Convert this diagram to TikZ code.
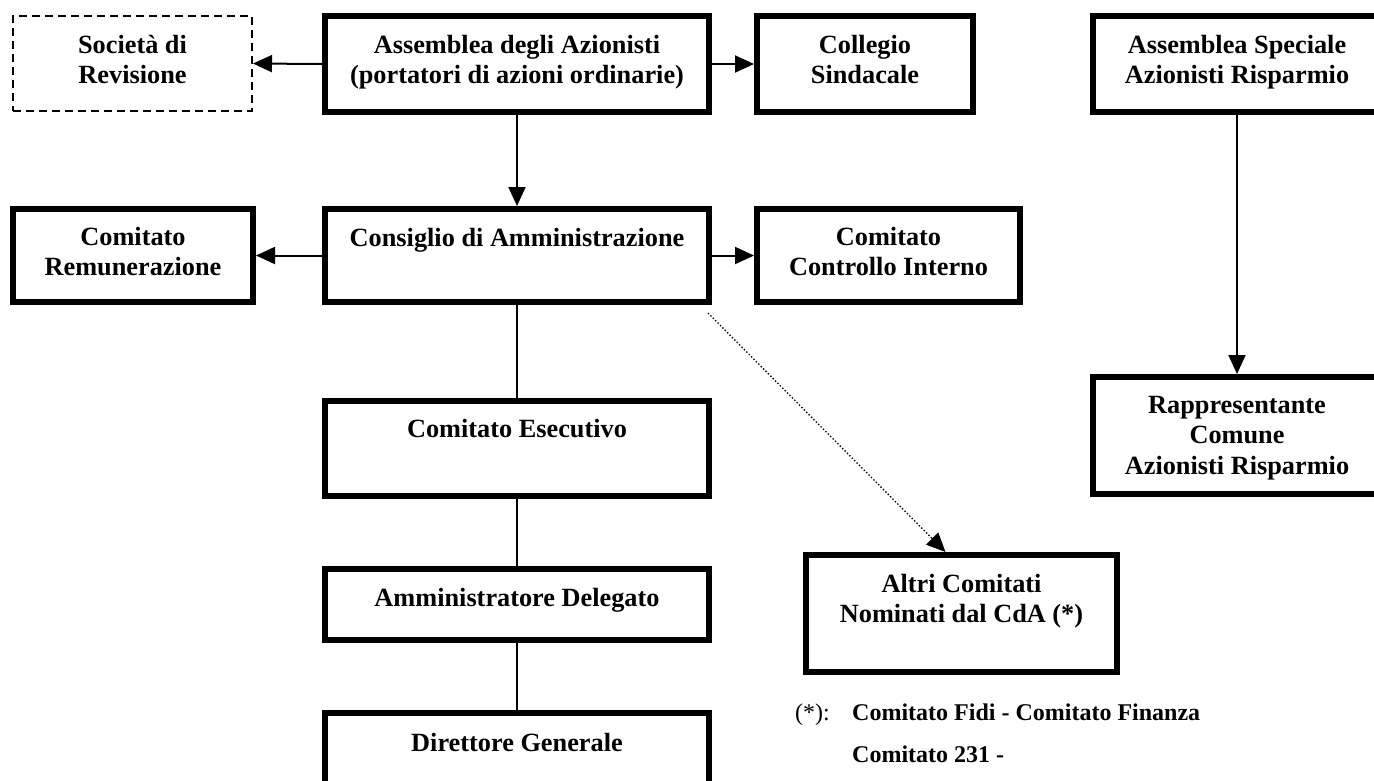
\documentclass[tikz,border=0pt]{standalone}
\usepackage{fontspec}
\setmainfont{Liberation Serif}
\usetikzlibrary{arrows.meta,calc}
\begin{document}
\begin{tikzpicture}[x=1pt,y=-1pt,
  orgbox/.style 2 args={draw=black, line width=6pt, minimum width=#1, minimum height=#2, inner sep=0pt},
  dashbox/.style 2 args={draw=black, line width=2pt, dash pattern=on 8pt off 5pt, minimum width=#1, minimum height=#2, inner sep=0pt},
  boxtxt/.style={font=\fontsize{26.3}{30.5}\selectfont\bfseries, align=center, inner sep=0pt, anchor=north},
  fntxt/.style={font=\fontsize{24}{28}\selectfont\bfseries, inner sep=0pt, anchor=base west},
  fnmark/.style={font=\fontsize{24}{28}\selectfont, inner sep=0pt, anchor=base west},
  conn/.style={draw=black, line width=2pt},
  arr/.style={conn, -{Triangle[length=19pt,width=17pt]}},
  dotarr/.style={draw=black, line width=1.3pt, dash pattern=on 1.4pt off 2pt, -{Triangle[length=19pt,width=17pt]}}
]
\fill[white] (0,0) rectangle (1374,780);
\useasboundingbox (0,0) rectangle (1374,780);

% boxes
\node[dashbox={239pt}{95pt}] (soc) at (132.5,63.5) {};
\node[orgbox={384pt}{96pt}] (ass) at (517,64) {};
\node[orgbox={216pt}{96pt}] (col) at (865,64) {};
\node[orgbox={288pt}{96pt}] (spe) at (1237,64) {};
\node[orgbox={240pt}{93pt}] (rem) at (133,255.5) {};
\node[orgbox={384pt}{93pt}] (cda) at (517,255.5) {};
\node[orgbox={263pt}{93pt}] (cci) at (888.5,255.5) {};
\node[orgbox={384pt}{95pt}] (ese) at (517,448.5) {};
\node[orgbox={384pt}{71pt}] (amm) at (517,604.5) {};
\node[orgbox={384pt}{84pt}] (dir) at (517,755) {};
\node[orgbox={311pt}{117pt}] (alt) at (961.5,613.5) {};
\node[orgbox={288pt}{117pt}] (rap) at (1237,435.5) {};

% texts
\node[boxtxt] (soc-t) at ($(soc.north)+(0,14)$) {\rule{0pt}{24pt}Società di\\Revisione};
\node[boxtxt] (ass-t) at ($(ass.north)+(0,16)$) {\rule{0pt}{24pt}Assemblea degli Azionisti\\(portatori di azioni ordinarie)};
\node[boxtxt] (col-t) at ($(col.north)+(0,16)$) {\rule{0pt}{24pt}Collegio\\Sindacale};
\node[boxtxt] (spe-t) at ($(spe.north)+(0,16)$) {\rule{0pt}{24pt}Assemblea Speciale\\Azionisti Risparmio};
\node[boxtxt] (rem-t) at ($(rem.north)+(0,15)$) {\rule{0pt}{24pt}Comitato\\Remunerazione};
\node[boxtxt] (cda-t) at ($(cda.north)+(0,16)$) {\rule{0pt}{24pt}Consiglio di Amministrazione};
\node[boxtxt] (cci-t) at ($(cci.north)+(0,15)$) {\rule{0pt}{24pt}Comitato\\Controllo Interno};
\node[boxtxt] (ese-t) at ($(ese.north)+(0,15)$) {\rule{0pt}{24pt}Comitato Esecutivo};
\node[boxtxt] (amm-t) at ($(amm.north)+(0,16)$) {\rule{0pt}{24pt}Amministratore Delegato};
\node[boxtxt] (dir-t) at ($(dir.north)+(0,17)$) {\rule{0pt}{24pt}Direttore Generale};
\node[boxtxt] (alt-t) at ($(alt.north)+(0,16)$) {\rule{0pt}{24pt}Altri Comitati\\Nominati dal CdA (*)};
\node[boxtxt] (rap-t) at ($(rap.north)+(0,15)$) {\rule{0pt}{24pt}Rappresentante\\Comune\\Azionisti Risparmio};

% footnote
\node[fnmark] (fn-m) at (795,720) {(*):};
\node[fntxt] (fn-1) at (852,720) {Comitato Fidi - Comitato Finanza};
\node[fntxt] (fn-2) at (852,762) {Comitato 231 -};

% connectors
\draw[arr] (ass.west) -- (soc.east);
\draw[arr] (ass.east) -- (col.west);
\draw[arr] (ass.south) -- (cda.north);
\draw[arr] (cda.west) -- (rem.east);
\draw[arr] (cda.east) -- (cci.west);
\draw[conn] (cda.south) -- (ese.north);
\draw[conn] (ese.south) -- (amm.north);
\draw[conn] (amm.south) -- (dir.north);
\draw[arr] (spe.south) -- (rap.north);
\coordinate (d1) at ($(cda.south east)+(-4,8)$);
\coordinate (d2) at ($(alt.north)+(-16,0)$);
\draw[dotarr] (d1) -- (d2);
\end{tikzpicture}
\end{document}
